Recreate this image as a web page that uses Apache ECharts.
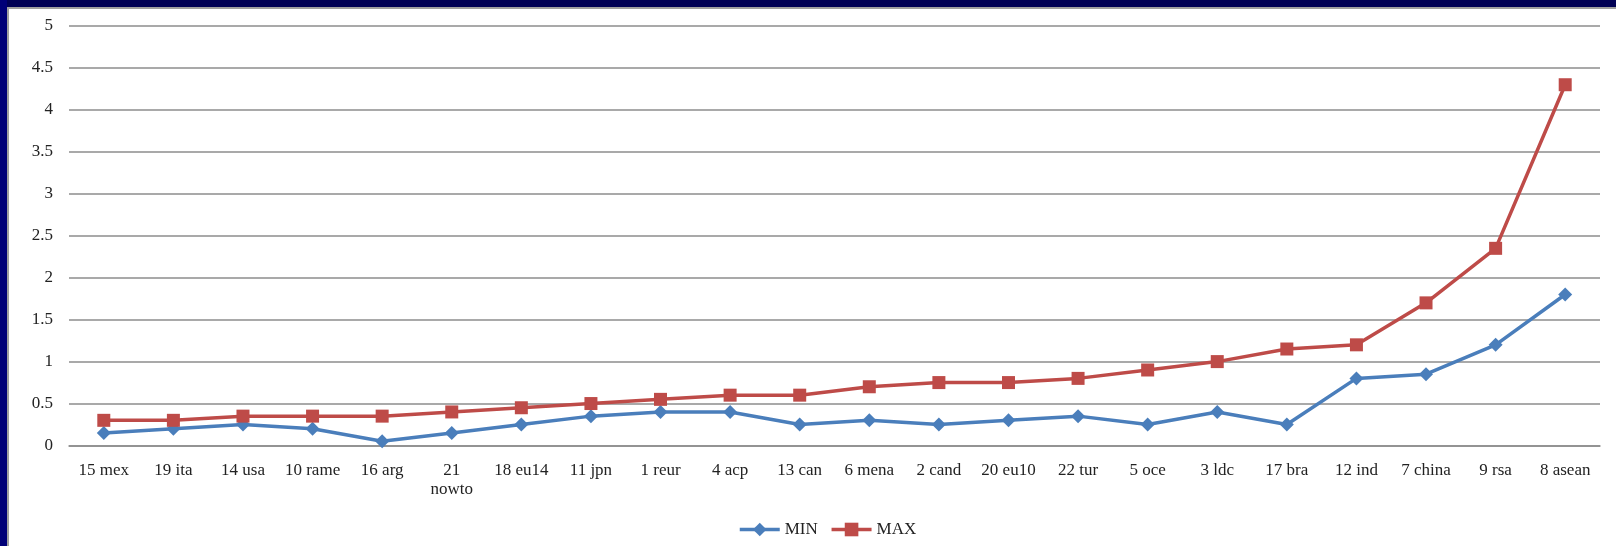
<!DOCTYPE html>
<html>
<head>
<meta charset="utf-8">
<script src="https://cdn.jsdelivr.net/npm/echarts@6/dist/echarts.min.js"></script>
<style>
  html, body { margin: 0; padding: 0; background: #fff; }
  #chart { position: absolute; left: 0; top: 0; width: 1616px; height: 546px; }
  .edge { position: absolute; pointer-events: none; }
</style>
</head>
<body>
<div id="chart"></div>
<div class="edge" style="left:0;top:0;width:1616px;height:7px;background:#000055;"></div>
<div class="edge" style="left:0;top:0;width:7px;height:546px;background:#000078;"></div>
<div class="edge" style="left:7px;top:7px;width:1609px;height:2px;background:#a0a0a0;"></div>
<div class="edge" style="left:7px;top:7px;width:2px;height:539px;background:#a0a0a0;"></div>
<script>
// Regions, ordered by their maximum value
const categories = ['15 mex', '19 ita', '14 usa', '10 rame', '16 arg', '21\nnowto', '18 eu14', '11 jpn',
  '1 reur', '4 acp', '13 can', '6 mena', '2 cand', '20 eu10', '22 tur', '5 oce', '3 ldc', '17 bra',
  '12 ind', '7 china', '9 rsa', '8 asean'];
const minValues = [0.15, 0.2, 0.25, 0.2, 0.05, 0.15, 0.25, 0.35, 0.4, 0.4, 0.25, 0.3, 0.25, 0.3,
  0.35, 0.25, 0.4, 0.25, 0.8, 0.85, 1.2, 1.8];
const maxValues = [0.3, 0.3, 0.35, 0.35, 0.35, 0.4, 0.45, 0.5, 0.55, 0.6, 0.6, 0.7, 0.75, 0.75,
  0.8, 0.9, 1.0, 1.15, 1.2, 1.7, 2.35, 4.3];
const yTicks = { min: 0, max: 5, interval: 0.5 };

const FONT = '"Liberation Serif", "Times New Roman", serif';
const chart = echarts.init(document.getElementById('chart'), null, { renderer: 'canvas' });

chart.setOption({
  animation: false,
  backgroundColor: '#ffffff',
  grid: { left: 69, right: 16, top: 26, bottom: 100.5, containLabel: false },
  legend: {
    left: 733, top: 516,
    itemWidth: 40, itemHeight: 17, itemGap: 12,
    lineStyle: { width: 3.5 },
    textStyle: { fontFamily: FONT, fontSize: 17, color: '#222' },
    data: ['MIN', 'MAX']
  },
  xAxis: {
    type: 'category',
    data: categories,
    boundaryGap: true,
    axisLine: { lineStyle: { color: '#8c8c8c', width: 1.5 } },
    axisTick: { show: false },
    axisLabel: {
      interval: 0, margin: 16, color: '#222',
      fontFamily: FONT, fontSize: 17, lineHeight: 19
    }
  },
  yAxis: {
    type: 'value',
    min: yTicks.min, max: yTicks.max, interval: yTicks.interval,
    axisLine: { show: false },
    axisTick: { show: false },
    axisLabel: { margin: 16, color: '#222', fontFamily: FONT, fontSize: 17 },
    splitLine: { lineStyle: { color: '#8c8c8c', width: 1.5 } }
  },
  series: [
    {
      name: 'MIN', type: 'line', data: minValues,
      symbol: 'diamond', symbolSize: 14,
      itemStyle: { color: '#4a7ebb' },
      lineStyle: { color: '#4a7ebb', width: 3.5 }
    },
    {
      name: 'MAX', type: 'line', data: maxValues,
      symbol: 'rect', symbolSize: 13,
      itemStyle: { color: '#be4b48' },
      lineStyle: { color: '#be4b48', width: 3.5 }
    }
  ]
});
</script>
</body>
</html>
